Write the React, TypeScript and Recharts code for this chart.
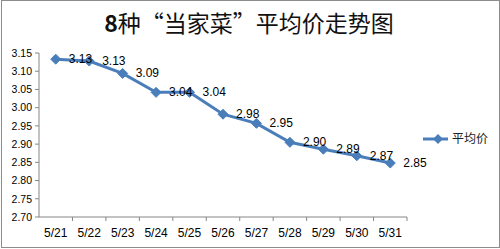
import { LineChart, Line, XAxis, YAxis, LabelList } from 'recharts';

const dates = ['5/21', '5/22', '5/23', '5/24', '5/25', '5/26', '5/27', '5/28', '5/29', '5/30', '5/31'];
const avgPrice = [3.133, 3.128, 3.094, 3.042, 3.042, 2.982, 2.957, 2.905, 2.886, 2.868, 2.848];
const priceLabels = ['3.13', '3.13', '3.09', '3.04', '3.04', '2.98', '2.95', '2.90', '2.89', '2.87', '2.85'];
const yTicks = [2.7, 2.75, 2.8, 2.85, 2.9, 2.95, 3.0, 3.05, 3.1, 3.15];

const W = 500;
const H = 249;
const margin = { top: 53, right: 93, left: 0, bottom: 0 };
const Y_AXIS_W = 39;
const BLUE = '#4A7EBB';
const AXIS = '#868686';
const FONT = '"Liberation Sans", "Noto Sans CJK SC", sans-serif';

const data = dates.map((d, i) => ({ date: d, price: avgPrice[i], label: priceLabels[i] }));

const band = (W - margin.left - margin.right - Y_AXIS_W) / dates.length;

const Diamond = (props: any) => {
  const { cx, cy } = props;
  if (cx == null || cy == null) return null;
  const r = 5;
  return <polygon points={`${cx},${cy - r} ${cx + r},${cy} ${cx},${cy + r} ${cx - r},${cy}`} fill={BLUE} stroke={BLUE} />;
};

const XTick = (props: any) => {
  const { x, y, payload, index } = props;
  const left = x - band / 2;
  const right = x + band / 2;
  return (
    <g>
      {index > 0 && <line x1={left} y1={y - 5} x2={left} y2={y - 1} stroke={AXIS} />}
      {index === dates.length - 1 && <line x1={right} y1={y - 5} x2={right} y2={y - 1} stroke={AXIS} />}
      <text x={x} y={y + 11} textAnchor="middle" dominantBaseline="central" fontSize={12} fill="#000" fontFamily={FONT}>
        {payload.value}
      </text>
    </g>
  );
};

const PriceLabel = (props: any) => {
  const { x, y, index } = props;
  return (
    <text x={x + 13} y={y} dominantBaseline="central" fontSize={12} fill="#000" fontFamily={FONT}>
      {priceLabels[index]}
    </text>
  );
};

export default function App() {
  return (
    <div style={{ position: 'absolute', left: 0, top: 0, width: W, height: H, background: '#fff' }}>
      <LineChart width={W} height={H} data={data} margin={margin}>
        <text x={249} y={22} textAnchor="middle" dominantBaseline="central" fontSize={23} fill="#111" fontFamily='"Noto Sans CJK SC", sans-serif'>
          <tspan fontWeight="bold">8</tspan>种“当家菜”平均价走势图
        </text>
        <g transform="translate(423,131)">
          <line x1={0} y1={8} x2={25} y2={8} stroke={BLUE} strokeWidth={3} />
          <polygon points="15,3 20,8 15,13 10,8" fill={BLUE} />
          <text x={29} y={8} dominantBaseline="central" fontSize={12} fill="#222" fontFamily={FONT}>
            平均价
          </text>
        </g>
        <XAxis
          dataKey="date"
          height={32}
          stroke={AXIS}
          tickLine={false}
          tickSize={5}
          tickMargin={0}
          interval={0}
          padding={{ left: band / 2, right: band / 2 }}
          tick={<XTick />}
        />
        <YAxis
          width={Y_AXIS_W}
          domain={[2.7, 3.15]}
          ticks={yTicks}
          interval={0}
          stroke={AXIS}
          tickSize={4}
          tickMargin={3}
          tickFormatter={(v: number) => v.toFixed(2)}
          tick={{ fontSize: 10.5, fill: '#000', fontFamily: FONT }}
        />
        <Line
          dataKey="price"
          stroke={BLUE}
          strokeWidth={3}
          dot={<Diamond />}
          activeDot={false}
          isAnimationActive={false}
        >
          <LabelList dataKey="label" content={<PriceLabel />} />
        </Line>
      </LineChart>
      <div style={{ position: 'absolute', left: 1, top: 0, width: 497, height: 246, border: '1px solid #8c8c8c', pointerEvents: 'none' }} />
    </div>
  );
}
